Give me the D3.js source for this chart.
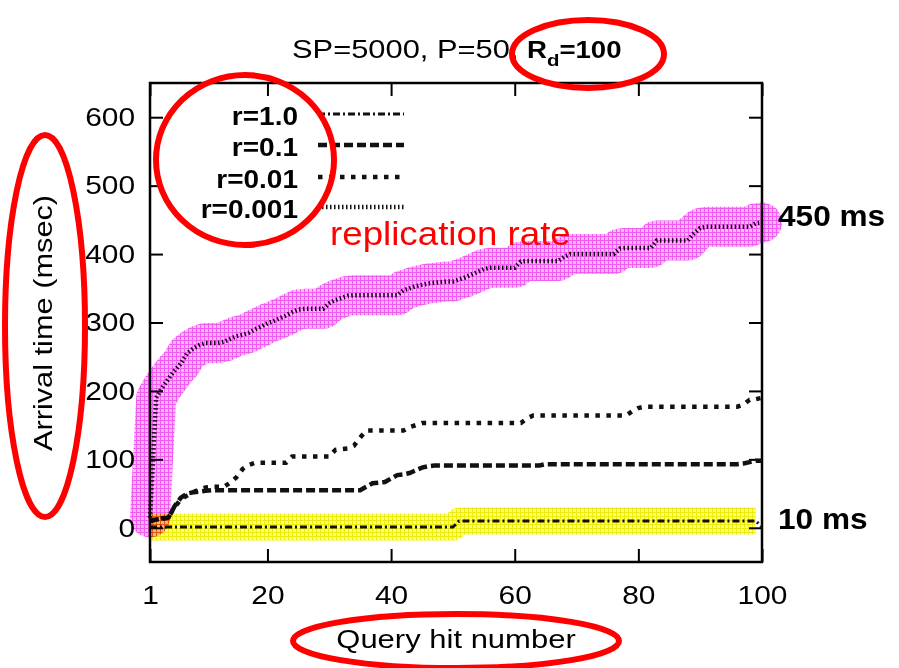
<!DOCTYPE html>
<html>
<head>
<meta charset="utf-8">
<script src="https://d3js.org/d3.v7.min.js"></script>
<style>
  body { margin: 0; background: #fff; }
  text { font-family: "Liberation Sans", Arial, sans-serif; fill: #000; }
  .band { mix-blend-mode: multiply; fill: none; }
  .note { fill: none; stroke: #ff0000; stroke-width: 6; }
</style>
</head>
<body>
<svg id="chart"></svg>
<script>
const WIDTH  = 899;
const HEIGHT = 668;
const FRAME  = { left: 150, right: 762, top: 83, bottom: 562 };

// query hit number
const hits   = d3.range(1, 101);
const xTicks = [1, 20, 40, 60, 80, 100];
const yTicks = [0, 100, 200, 300, 400, 500, 600];
const seriesNames = ['r=1.0', 'r=0.1', 'r=0.01', 'r=0.001'];

// arrival time (msec) per query hit
const r1 = [
  1,1,1,1,1,1,1,1,1,1, 1,1,1,1,1,1,1,1,1,1,
  1,1,1,1,1,1,1,1,1,1, 1,1,1,1,1,1,1,1,1,1,
  1,1,1,1,1,1,1,1,1,1, 10,10,10,10,10,10,10,10,10,10,
  10,10,10,10,10,10,10,10,10,10, 10,10,10,10,10,10,10,10,10,10,
  10,10,10,10,10,10,10,10,10,10, 10,10,10,10,10,10,10,10,10,1
];
const r01 = [
  10,12,13,15,32,44,50,52,53,54,
  55,55,55,55,55,55,55,55,55,55, 55,55,55,55,55,55,55,55,55,55,
  55,55,55,55,55,60,65,66,67,72, 77,78,80,84,88,90,91,91,91,91,
  91,91,91,91,91,91,91,91,91,91, 91,91,91,91,93,93,93,93,93,93,
  93,93,93,93,93,93,93,93,93,93, 93,93,93,93,93,93,93,93,93,93,
  93,93,93,93,93,93,94,96,98,98
];
const r001 = [
  10,12,14,16,30,42,47,52,56,59, 60,60,60,66,74,86,92,95,95,95,
  95,95,95,104,104,104,104,104,104,104, 114,115,116,120,132,142,142,142,142,142,
  142,142,147,150,153,153,153,153,153,153, 153,153,153,153,153,153,153,153,153,153,
  153,160,164,164,164,164,164,164,164,164, 164,164,164,164,164,164,164,164,170,175,
  177,177,177,177,177,177,177,177,177,177, 177,177,177,177,177,177,180,187,188,190
];
const r0001 = [
  15,190,205,218,230,240,255,262,267,270, 270,270,272,276,280,282,285,290,294,299,
  302,306,310,315,319,320,320,320,320,328, 333,336,339,340,340,340,340,340,340,340,
  340,347,350,353,355,357,358,359,360,360, 363,366,370,374,378,380,380,380,380,380,
  389,390,390,390,390,390,390,396,400,400, 400,400,400,400,400,400,408,409,409,409,
  409,409,420,420,420,420,420,420,430,438, 440,440,440,440,440,440,440,440,445,446
];

const series = [r1, r01, r001, r0001];
const dashes = ['7,3,2,3', '9,4', '4.5,6.5', '1.5,2.5'];
const widths = [3, 4.5, 4.5, 4.5];

const svg = d3.select('#chart')
  .attr('width', WIDTH)
  .attr('height', HEIGHT);

const x = d3.scaleLinear().domain([1, 100]).range([FRAME.left, FRAME.right]);
const y = d3.scaleLinear().domain([-50, 650]).range([FRAME.bottom, FRAME.top]);

// hatch textures for the highlight bands
const defs = svg.append('defs');
function grid(id, base, line) {
  const p = defs.append('pattern')
    .attr('id', id)
    .attr('patternUnits', 'userSpaceOnUse')
    .attr('width', 4).attr('height', 4);
  p.append('rect').attr('width', 4).attr('height', 4).attr('fill', base);
  p.append('path').attr('d', 'M0,0.5H4M0.5,0V4').attr('stroke', line).attr('stroke-width', 1);
}
grid('pinkGrid', '#ffb4ff', '#f25cf2');
grid('yellowGrid', '#ffff70', '#ecec10');

// stretched text helper (the original figure text is wide)
function label(g, str, px, py, size, weight, k, anchor) {
  return g.append('text')
    .attr('transform', 'translate(' + px + ',' + py + ') scale(' + k + ',1)')
    .attr('font-size', size)
    .attr('font-weight', weight)
    .attr('text-anchor', anchor)
    .text(str);
}

// axes, ticks pointing inward on all four sides
const yAxis = d3.axisLeft(y).tickValues(yTicks).tickSize(-13).tickSizeOuter(0).tickPadding(15);
const xAxis = d3.axisBottom(x).tickValues(xTicks).tickSize(-13).tickSizeOuter(0).tickPadding(24);

const TICK_K = 1.15;
svg.append('g')
  .attr('transform', 'translate(' + FRAME.left + ',0)')
  .call(yAxis)
  .call(g => g.select('.domain').remove())
  .call(g => g.selectAll('line').attr('stroke-width', 2))
  .call(g => g.selectAll('text')
    .attr('font-size', 26)
    .attr('x', -15 / TICK_K)
    .attr('transform', 'scale(' + TICK_K + ',1)'));

svg.append('g')
  .attr('transform', 'translate(0,' + FRAME.bottom + ')')
  .call(xAxis)
  .call(g => g.select('.domain').remove())
  .call(g => g.selectAll('line').attr('stroke-width', 2))
  .call(g => g.selectAll('text')
    .attr('font-size', 26)
    .attr('transform', 'scale(' + TICK_K + ',1)'));

svg.append('g')
  .attr('transform', 'translate(' + FRAME.right + ',0)')
  .call(d3.axisRight(y).tickValues(yTicks).tickSize(-13).tickSizeOuter(0).tickFormat(''))
  .call(g => g.select('.domain').remove())
  .call(g => g.selectAll('line').attr('stroke-width', 2));

svg.append('g')
  .attr('transform', 'translate(0,' + FRAME.top + ')')
  .call(d3.axisTop(x).tickValues(xTicks).tickSize(-13).tickSizeOuter(0).tickFormat(''))
  .call(g => g.select('.domain').remove())
  .call(g => g.selectAll('line').attr('stroke-width', 2));

svg.append('rect')
  .attr('x', FRAME.left)
  .attr('y', FRAME.top)
  .attr('width', FRAME.right - FRAME.left)
  .attr('height', FRAME.bottom - FRAME.top)
  .attr('fill', 'none')
  .attr('stroke', '#000')
  .attr('stroke-width', 2.5);

// series lines
const line = d3.line()
  .x((d, i) => x(hits[i]))
  .y(d => y(d));

svg.append('g')
  .selectAll('path')
  .data(series)
  .join('path')
    .attr('d', line)
    .attr('fill', 'none')
    .attr('stroke', '#111')
    .attr('stroke-width', (d, i) => widths[i])
    .attr('stroke-dasharray', (d, i) => dashes[i]);

// highlight bands over r=0.001 and r=1.0
svg.append('path')
  .attr('class', 'band')
  .attr('d', line(r0001))
  .attr('stroke', 'url(#pinkGrid)')
  .attr('stroke-width', 40)
  .attr('stroke-linecap', 'round')
  .attr('stroke-linejoin', 'round');

svg.append('path')
  .attr('class', 'band')
  .attr('d', line(r1.slice(0, -1)))
  .attr('stroke', 'url(#yellowGrid)')
  .attr('stroke-width', 27)
  .attr('stroke-linecap', 'butt')
  .attr('stroke-linejoin', 'round');

// legend
const legend = svg.append('g');
const LEG_TEXT_Y = [125, 156, 188, 218];
seriesNames.forEach((name, i) => {
  label(legend, name, 298, LEG_TEXT_Y[i], 25, 'bold', 1.12, 'end');
  legend.append('line')
    .attr('x1', 318).attr('x2', 404)
    .attr('y1', LEG_TEXT_Y[i] - 11).attr('y2', LEG_TEXT_Y[i] - 11)
    .attr('stroke', '#111')
    .attr('stroke-width', widths[i])
    .attr('stroke-dasharray', dashes[i]);
});

// title and axis labels
label(svg, 'SP=5000, P=50,', 292, 58, 25, 'normal', 1.235, 'start');
const rd = label(svg, 'R', 527, 58, 23, 'bold', 1.2, 'start');
rd.append('tspan').attr('font-size', 17).attr('dy', 8).text('d');
rd.append('tspan').attr('dy', -8).text('=100');

svg.append('text')
  .attr('transform', 'translate(52,323) rotate(-90) scale(1.23,1)')
  .attr('font-size', 25)
  .attr('text-anchor', 'middle')
  .text('Arrival time (msec)');

label(svg, 'Query hit number', 456, 648, 25, 'normal', 1.24, 'middle');

// annotations
label(svg, 'replication rate', 330, 245, 34, 'normal', 1.08, 'start').style('fill', '#ff0000');
label(svg, '450 ms', 778, 226, 29, 'bold', 1.09, 'start');
label(svg, '10 ms', 778, 529, 29, 'bold', 1.09, 'start');

svg.append('ellipse').attr('class', 'note').attr('cx', 588).attr('cy', 54).attr('rx', 76).attr('ry', 34);
svg.append('ellipse').attr('class', 'note').attr('cx', 245).attr('cy', 160).attr('rx', 89).attr('ry', 85);
svg.append('ellipse').attr('class', 'note').attr('cx', 45).attr('cy', 326).attr('rx', 40).attr('ry', 191);
svg.append('ellipse').attr('class', 'note').attr('cx', 456).attr('cy', 641).attr('rx', 163).attr('ry', 27);
</script>
</body>
</html>
